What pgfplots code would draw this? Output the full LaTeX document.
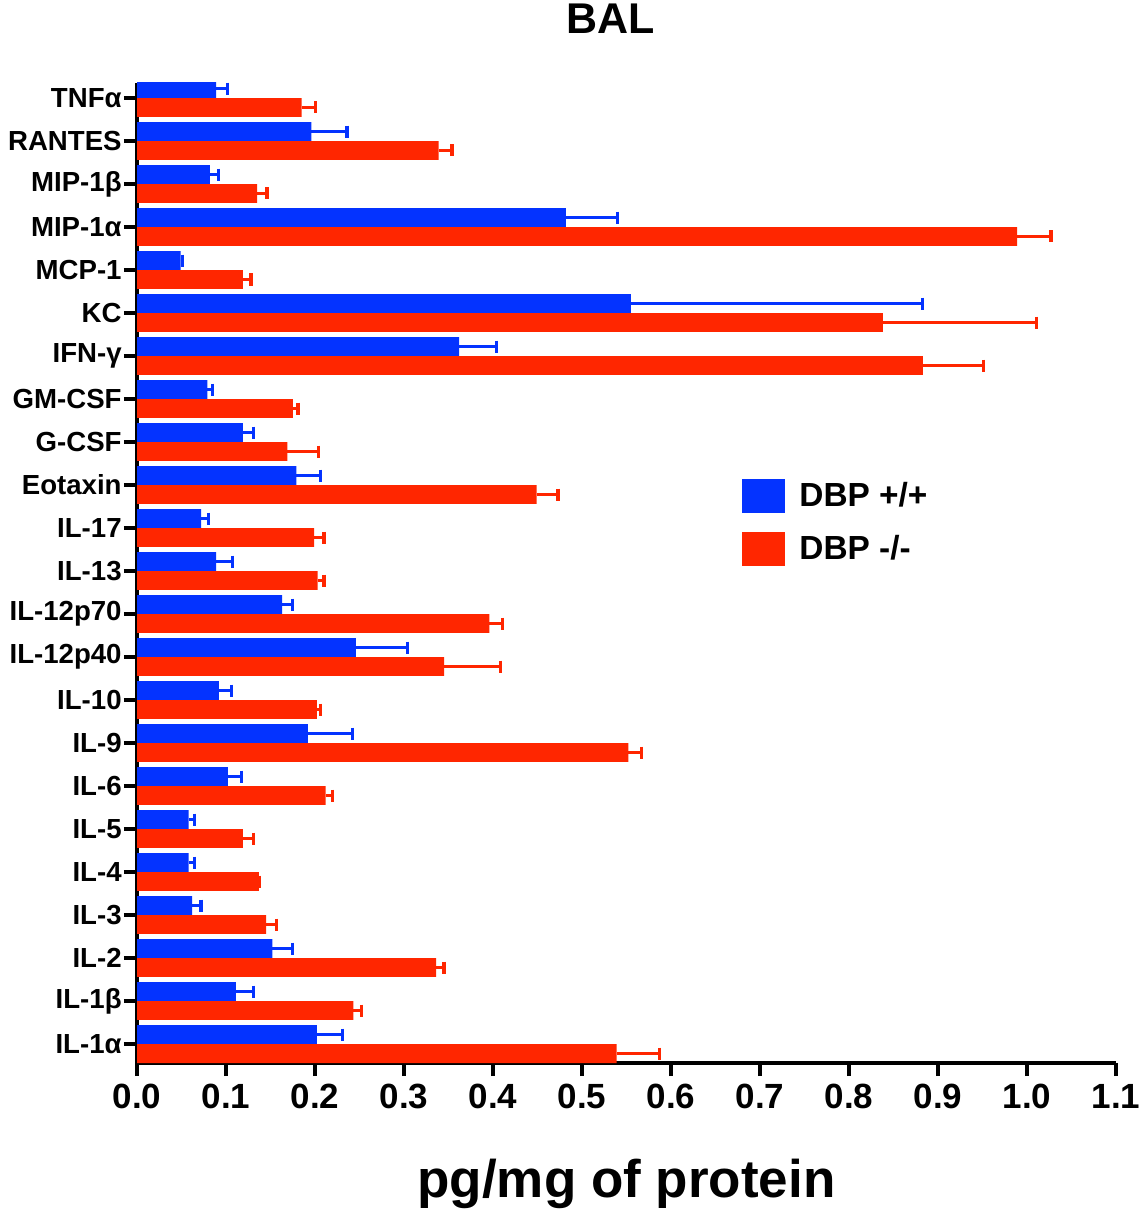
\documentclass[border=0pt]{standalone}
\usepackage{fontspec}
\setmainfont{Liberation Sans}
\usepackage{pgfplots}
\pgfplotsset{compat=1.18}
\usepackage{pgfplotstable}
\definecolor{dbpblue}{RGB}{4,51,255}
\definecolor{dbpred}{RGB}{255,38,0}

\pgfplotstableread{
pos b be r re
0 0.202 0.029 0.539 0.048
1 0.111 0.020 0.243 0.009
2 0.152 0.023 0.336 0.009
3 0.062 0.010 0.145 0.012
4 0.058 0.007 0.137 0.001
5 0.058 0.007 0.119 0.012
6 0.102 0.015 0.212 0.008
7 0.192 0.050 0.552 0.015
8 0.092 0.014 0.202 0.004
9 0.246 0.058 0.345 0.063
10 0.163 0.012 0.396 0.015
11 0.089 0.018 0.203 0.007
12 0.072 0.008 0.199 0.011
13 0.179 0.027 0.449 0.024
14 0.119 0.012 0.169 0.035
15 0.079 0.006 0.175 0.006
16 0.362 0.042 0.883 0.068
17 0.555 0.328 0.838 0.173
18 0.049 0.002 0.119 0.009
19 0.482 0.058 0.989 0.038
20 0.082 0.010 0.135 0.011
21 0.196 0.040 0.339 0.015
22 0.089 0.013 0.185 0.016
}\data

\begin{document}
\begin{tikzpicture}
\begin{axis}[
  scale only axis,
  width=489.5pt, height=490pt,
  xmin=0, xmax=1.1,
  ymin=-0.44, ymax=22.35,
  axis x line*=bottom, axis y line*=left,
  axis line style={line width=2.25pt, black},
  xtick={0,0.1,0.2,0.3,0.4,0.5,0.6,0.7,0.8,0.9,1.0,1.1},
  xticklabels={0.0,0.1,0.2,0.3,0.4,0.5,0.6,0.7,0.8,0.9,1.0,1.1},
  ytick={0,...,22},
  yticklabels={IL-1α,IL-1β,IL-2,IL-3,IL-4,IL-5,IL-6,IL-9,IL-10,IL-12p40,IL-12p70,IL-13,IL-17,Eotaxin,G-CSF,GM-CSF,IFN-γ,KC,MCP-1,MIP-1α,MIP-1β,RANTES,TNFα},
  tick align=outside,
  major tick length=6.5pt,
  tick style={line width=1.75pt, black},
  xticklabel style={font=\bfseries\fontsize{17.5}{18}\selectfont, inner sep=4pt},
  yticklabel style={font=\bfseries\fontsize{13.8}{14}\selectfont, inner sep=1pt},
  title={BAL},
  title style={font=\bfseries\fontsize{21.5}{22}\selectfont, at={(0.484,1)}, anchor=base, yshift=18.5pt, inner sep=0pt},
  xlabel={pg/mg of protein},
  xlabel style={font=\bfseries\fontsize{26.5}{27}\selectfont, at={(0.5,0)}, anchor=base, yshift=-67pt, inner sep=0pt},
  legend style={at={(0.618,0.597)}, anchor=north west, draw=none, fill=none,
    inner sep=0pt, font=\bfseries\fontsize{16.7}{17}\selectfont, row sep=9pt},
  legend cell align=left,
  legend image code/.code={\fill[#1,draw=none] (0pt,-8.5pt) rectangle (21.5pt,8.5pt); \path (26.5pt,0pt);},
]
\addplot[xbar, bar width=0.44, bar shift=0, fill=dbpblue, draw=none,
  error bars/.cd, x dir=plus, x explicit, error mark=|,
  error bar style={draw=dbpblue, line width=1.2pt},
  error mark options={draw=dbpblue, line width=1.6pt, mark size=3pt}]
  table[x=b, x error=be, y expr=\thisrow{pos}+0.22]{\data};
\addlegendentry{DBP +/+}
\addplot[xbar, bar width=0.44, bar shift=0, fill=dbpred, draw=none,
  error bars/.cd, x dir=plus, x explicit, error mark=|,
  error bar style={draw=dbpred, line width=1.2pt},
  error mark options={draw=dbpred, line width=1.6pt, mark size=3pt}]
  table[x=r, x error=re, y expr=\thisrow{pos}-0.22]{\data};
\addlegendentry{DBP -/-}
\end{axis}
\pgfresetboundingbox
\path[use as bounding box] (-68.5pt,-75pt) rectangle (504pt,531.5pt);
\end{tikzpicture}
\end{document}
